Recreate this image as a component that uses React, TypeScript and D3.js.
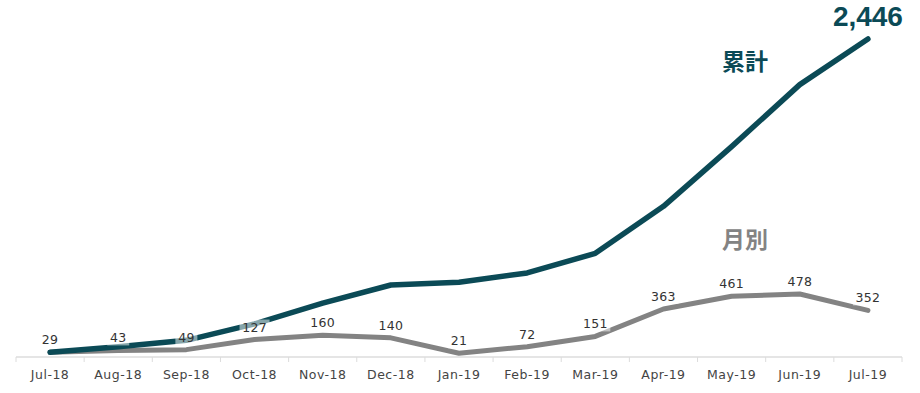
import React, { useEffect, useRef } from 'react';
import * as d3 from 'd3';

const months = ['Jul-18', 'Aug-18', 'Sep-18', 'Oct-18', 'Nov-18', 'Dec-18', 'Jan-19', 'Feb-19', 'Mar-19', 'Apr-19', 'May-19', 'Jun-19', 'Jul-19'];
const monthly = [29, 43, 49, 127, 160, 140, 21, 72, 151, 363, 461, 478, 352];
const cumulative = [29, 72, 121, 248, 408, 548, 569, 641, 792, 1155, 1616, 2094, 2446];

const TEAL = '#0b4a56';
const GRAY = '#838383';

const App: React.FC = () => {
  const svgRef = useRef<SVGSVGElement>(null);

  useEffect(() => {
    if (!svgRef.current) return;
    const width = 920;
    const height = 393;
    const svg = d3.select(svgRef.current);
    svg.selectAll('*').remove();

    const x = d3.scaleBand<string>().domain(months).range([16, 902]);
    const cx = (m: string) => (x(m) as number) + x.bandwidth() / 2;
    const y = d3.scaleLinear().domain([0, 2500]).range([356, 32]);

    // axis line + ticks between categories
    const axisY = 357;
    svg.append('line')
      .attr('x1', 16).attr('x2', 902).attr('y1', axisY).attr('y2', axisY)
      .attr('stroke', '#dcdcdc').attr('stroke-width', 1.5);
    const boundaries = months.map(m => x(m) as number).concat([902]);
    boundaries.forEach(b => {
      svg.append('line')
        .attr('x1', b).attr('x2', b).attr('y1', axisY).attr('y2', axisY + 5)
        .attr('stroke', '#dcdcdc').attr('stroke-width', 1);
    });

    svg.append('g').selectAll('text')
      .data(months)
      .join('text')
      .attr('x', d => cx(d))
      .attr('y', 379)
      .attr('text-anchor', 'middle')
      .attr('font-family', 'DejaVu Sans, sans-serif')
      .attr('font-size', 12.5)
      .attr('letter-spacing', 0.5)
      .attr('fill', '#444')
      .text(d => d);

    const line = d3.line<number>()
      .x((_, i) => cx(months[i]))
      .y(d => y(d));

    svg.append('path')
      .datum(monthly)
      .attr('fill', 'none')
      .attr('stroke', GRAY)
      .attr('stroke-width', 5)
      .attr('stroke-linecap', 'round')
      .attr('stroke-linejoin', 'round')
      .attr('d', line);

    svg.append('path')
      .datum(cumulative)
      .attr('fill', 'none')
      .attr('stroke', TEAL)
      .attr('stroke-width', 5.5)
      .attr('stroke-linecap', 'round')
      .attr('stroke-linejoin', 'round')
      .attr('d', line);

    // data labels for monthly values (semi-transparent white backing)
    const lbl = svg.append('g');
    monthly.forEach((v, i) => {
      const px = cx(months[i]);
      const py = y(v) - 8;
      const w = String(v).length * 8 + 6;
      lbl.append('rect')
        .attr('x', px - w / 2).attr('y', py - 12).attr('width', w).attr('height', 15)
        .attr('fill', '#ffffff').attr('opacity', 0.5);
      lbl.append('text')
        .attr('x', px).attr('y', py)
        .attr('text-anchor', 'middle')
        .attr('font-family', 'DejaVu Sans, sans-serif')
        .attr('font-size', 12.5)
        .attr('letter-spacing', 0.3)
        .attr('fill', '#333')
        .text(v);
    });

    // total label
    const last = cumulative[cumulative.length - 1];
    svg.append('text')
      .attr('x', cx(months[months.length - 1]))
      .attr('y', y(last) - 13)
      .attr('text-anchor', 'middle')
      .attr('font-family', 'Liberation Sans, Arial, sans-serif')
      .attr('font-weight', 'bold')
      .attr('font-size', 28)
      .attr('fill', TEAL)
      .text(d3.format(',')(last));

    svg.append('text')
      .attr('x', 745).attr('y', 70)
      .attr('text-anchor', 'middle')
      .attr('font-family', 'Noto Sans CJK JP, sans-serif')
      .attr('font-weight', 'bold')
      .attr('font-size', 23)
      .attr('fill', TEAL)
      .text('累計');

    svg.append('text')
      .attr('x', 745).attr('y', 248)
      .attr('text-anchor', 'middle')
      .attr('font-family', 'Noto Sans CJK JP, sans-serif')
      .attr('font-weight', 'bold')
      .attr('font-size', 23)
      .attr('fill', GRAY)
      .text('月別');

    svg.attr('width', width).attr('height', height);
  }, []);

  return (
    <svg ref={svgRef} width={920} height={393}
      style={{ position: 'absolute', left: 0, top: 0, background: '#fff' }} />
  );
};

export default App;
